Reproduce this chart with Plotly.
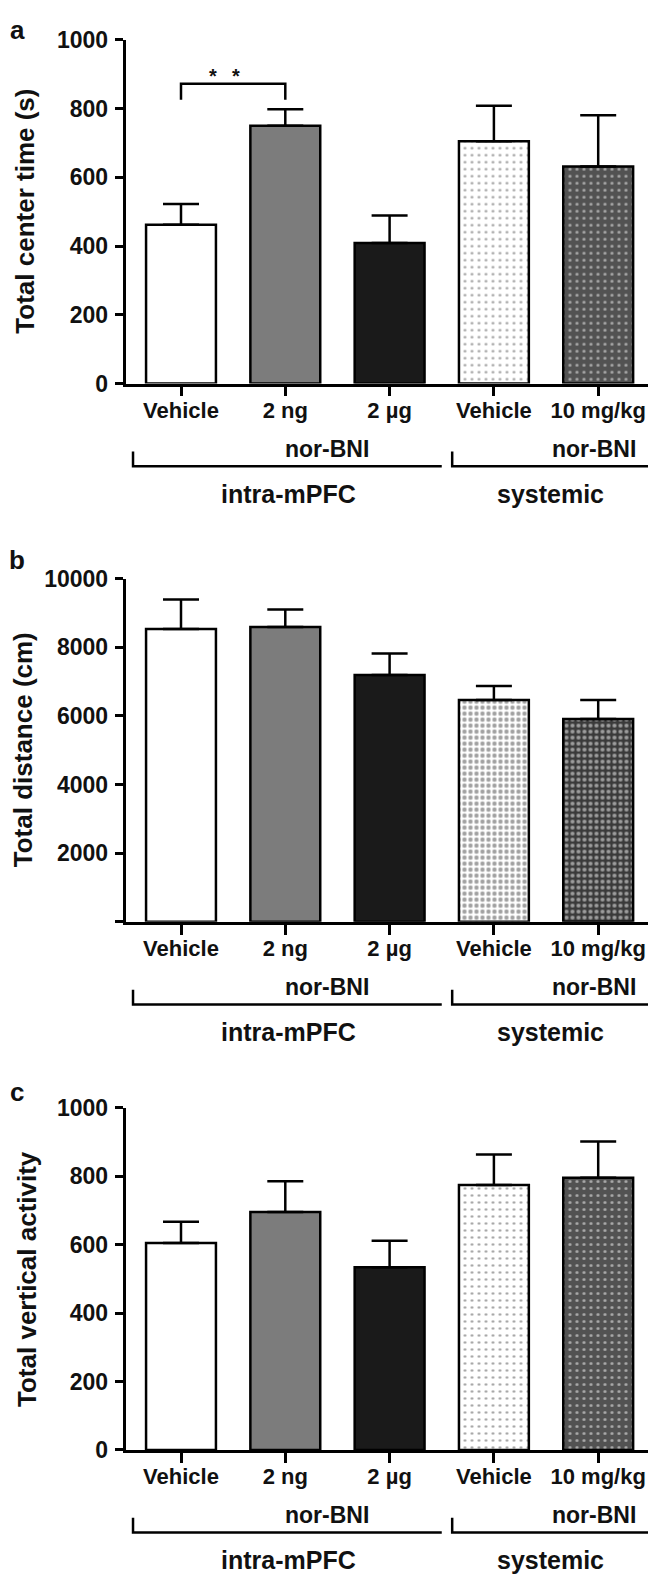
import plotly.graph_objects as go

# data
labels = ["Vehicle", "2 ng", "2 µg", "Vehicle", "10 mg/kg"]
center_time = [462, 750, 409, 705, 631]
center_time_err = [60, 48, 80, 103, 149]
distance = [8530, 8590, 7190, 6460, 5910]
distance_err = [860, 510, 630, 410, 550]
vertical = [605, 696, 534, 775, 796]
vertical_err = [62, 90, 78, 89, 106]

drug_label = "nor-BNI"
groups = ["intra-mPFC", "systemic"]

# the page body keeps its 8px margin, so the figure is drawn 16px smaller
# and all positions below are given in page pixels
OFF = 8
W, H = 640, 1570
FONT = "Arial, Liberation Sans, sans-serif"

shapes_pat = ["", "", "", ".", "."]


def py(y):
    # page pixel row -> paper y
    return 1 - (y - OFF) / H


def px(x):
    return (x - OFF) / W


xs = list(range(len(labels)))

panels = [
    dict(vals=center_time, err=center_time_err, top=27, bottom=376.7, rng=[0, 1000],
         tickvals=[0, 200, 400, 600, 800, 1000], ticktext=["0", "200", "400", "600", "800", "1000"],
         title="Total center time (s)", title_x=25, letter="a", letter_y=17,
         bg=["white", "#7c7c7c", "#1a1a1a", "white", "#525252"],
         fg=["black", "black", "black", "#8c8c8c", "#1e1e1e"], solid=[0, 0, 0, 0.12, 0.15]),
    dict(vals=distance, err=distance_err, top=575, bottom=924, rng=[0, 10000],
         tickvals=[0, 2000, 4000, 6000, 8000, 10000], ticktext=["", "2000", "4000", "6000", "8000", "10000"],
         title="Total distance (cm)", title_x=23, letter="b", letter_y=556,
         bg=["white", "#7c7c7c", "#1a1a1a", "white", "#3a3a3a"],
         fg=["black", "black", "black", "#000000", "#0a0a0a"], solid=[0, 0, 0, 0.42, 0.38]),
    dict(vals=vertical, err=vertical_err, top=1113.3, bottom=1461, rng=[0, 1000],
         tickvals=[0, 200, 400, 600, 800, 1000], ticktext=["0", "200", "400", "600", "800", "1000"],
         title="Total vertical activity", title_x=27, letter="c", letter_y=1097,
         bg=["white", "#7c7c7c", "#1a1a1a", "white", "#525252"],
         fg=["black", "black", "black", "#8c8c8c", "#1e1e1e"], solid=[0, 0, 0, 0.12, 0.15]),
]

x_left, x_right = 125.5, 648
bar0_center, bar_step = 181, 104.3
x_range = [(x_left - bar0_center) / bar_step, (x_right - bar0_center) / bar_step]

fig = go.Figure()
annotations = []
shapes = []
layout = {}

for i, p in enumerate(panels, start=1):
    sfx = "" if i == 1 else str(i)
    xa, ya = "x" + sfx, "y" + sfx

    fig.add_trace(go.Bar(
        x=xs,
        y=p["vals"],
        xaxis=xa,
        yaxis=ya,
        width=0.67,
        marker=dict(
            color=p["bg"],
            line=dict(color="black", width=2.5),
            pattern=dict(shape=shapes_pat, fgcolor=p["fg"], bgcolor=p["bg"],
                         solidity=p["solid"], size=7 if i != 2 else 6),
        ),
        error_y=dict(type="data", symmetric=False, array=p["err"], arrayminus=[0] * 5,
                     width=18, thickness=2.5, color="black"),
        showlegend=False,
        hoverinfo="skip",
    ))

    layout["xaxis" + sfx] = dict(
        domain=[px(x_left), px(x_right)], range=x_range, anchor=ya,
        showline=True, linewidth=2.5, linecolor="black",
        ticks="outside", ticklen=10, tickwidth=2.5, tickcolor="black",
        tickvals=xs, ticktext=labels, showgrid=False, zeroline=False,
        tickfont=dict(family=FONT, size=22, color="#111", weight="bold"),
        ticklabelstandoff=-5, ticklabeloverflow="allow",
        fixedrange=True,
    )
    layout["yaxis" + sfx] = dict(
        domain=[py(p["bottom"]), py(p["top"])], range=p["rng"], anchor=xa,
        showline=True, linewidth=2.5, linecolor="black",
        ticks="outside", ticklen=8, tickwidth=2.5, tickcolor="black",
        tickvals=p["tickvals"], ticktext=p["ticktext"], showgrid=False, zeroline=False,
        tickfont=dict(family=FONT, size=23, color="#111", weight="bold"),
        ticklabelstandoff=2,
        fixedrange=True,
    )

    # y title
    annotations.append(dict(
        text=p["title"], xref="paper", yref="paper", x=px(p["title_x"]),
        y=py((p["top"] + p["bottom"]) / 2), textangle=-90, showarrow=False,
        xanchor="center", yanchor="middle",
        font=dict(family=FONT, size=26, color="#111", weight="bold"),
    ))
    # panel letter
    annotations.append(dict(
        text=p["letter"], xref="paper", yref="paper", x=px(17), y=py(p["letter_y"]),
        showarrow=False, xanchor="center", yanchor="middle",
        font=dict(family=FONT, size=26, color="#111", weight="bold"),
    ))

    b = p["bottom"]
    # drug labels
    for xc in (1.40, 3.96):
        annotations.append(dict(
            text=drug_label, xref=xa, yref="paper", x=xc, y=py(b + 66),
            showarrow=False, xanchor="center", yanchor="middle",
            font=dict(family=FONT, size=23, color="#111", weight="bold"),
        ))
    # group labels
    for xc, g in zip((1.03, 3.54), groups):
        annotations.append(dict(
            text=g, xref=xa, yref="paper", x=xc, y=py(b + 112),
            showarrow=False, xanchor="center", yanchor="middle",
            font=dict(family=FONT, size=25, color="#111", weight="bold"),
        ))
    # group brackets
    for x0, x1 in ((-0.46, 2.50), (2.60, 4.6)):
        shapes.append(dict(
            type="path", xref=xa, yref="paper",
            path=f"M {x0},{py(b + 69)} L {x0},{py(b + 84)} L {x1},{py(b + 84)}",
            line=dict(color="black", width=2.5),
        ))

# significance bracket in panel a
sig_pair = (0, 1)
sig_low, sig_high = 825, 872
shapes.append(dict(
    type="path", xref="x", yref="y",
    path=f"M {sig_pair[0]},{sig_low} L {sig_pair[0]},{sig_high} L {sig_pair[1]},{sig_high} L {sig_pair[1]},{sig_low}",
    line=dict(color="black", width=2.5),
))
for xs_star in (0.31, 0.53):
    annotations.append(dict(
        text="*", xref="x", yref="y", x=xs_star, y=895, showarrow=False,
        xanchor="center", yanchor="middle",
        font=dict(family=FONT, size=20, color="#111", weight="bold"),
    ))

fig.update_layout(
    width=W,
    height=H,
    margin=dict(l=0, r=0, t=0, b=0),
    paper_bgcolor="white",
    plot_bgcolor="white",
    annotations=annotations,
    shapes=shapes,
    **layout,
)

fig.write_html("out.html")
